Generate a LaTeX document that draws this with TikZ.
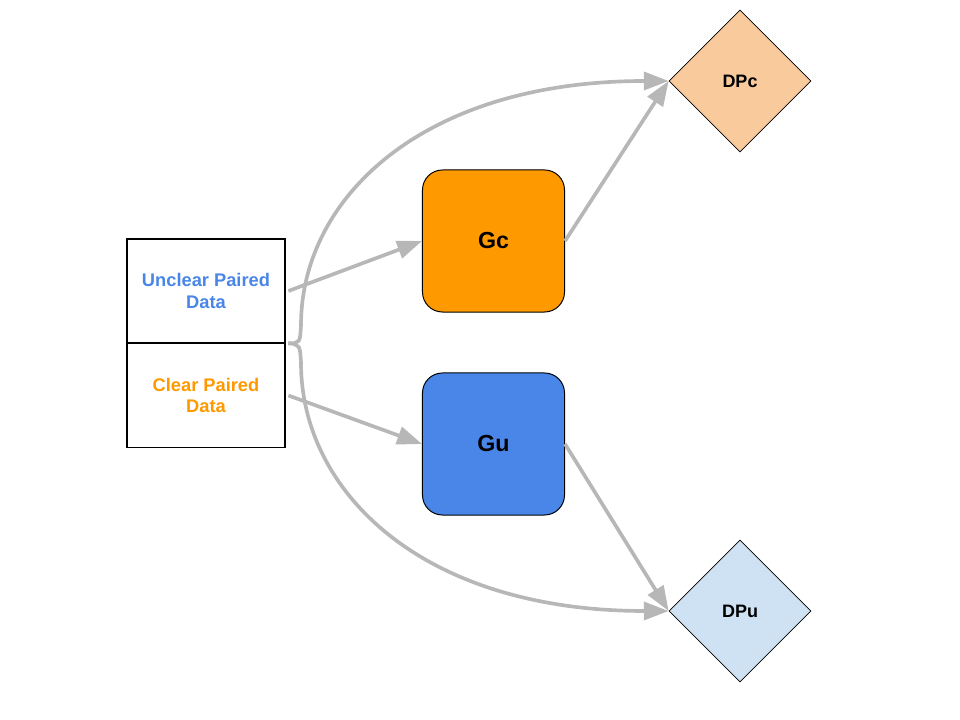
\documentclass[tikz,border=0pt]{standalone}
\usepackage{fontspec}
\setmainfont{Liberation Sans}
\usepackage{xcolor}
\usetikzlibrary{shapes.geometric}
\usetikzlibrary{arrows.meta}
\definecolor{gorange}{HTML}{FF9900}
\definecolor{gblue}{HTML}{4A86E8}
\definecolor{lorange}{HTML}{F9CB9C}
\definecolor{lblue}{HTML}{CFE2F3}
\definecolor{linkgray}{HTML}{B7B7B7}
\tikzset{databox/.style={draw=black, line width=0.8pt, minimum width=3.95cm, minimum height=2.6cm,
   align=center, font=\fontsize{13}{15}\selectfont\bfseries},
 genbox/.style={draw=black, line width=0.7pt, rounded corners=0.5cm, minimum width=3.55cm,
   minimum height=3.55cm, font=\fontsize{16.5}{19}\selectfont\bfseries},
 discbox/.style={diamond, draw=black, line width=0.5pt, aspect=1, inner sep=0pt,
   minimum width=3.55cm, minimum height=3.55cm, font=\fontsize{12.8}{15}\selectfont\bfseries},
 link/.style={draw=linkgray, line width=2.6pt, -{Triangle[length=0.62cm, width=0.45cm]}},
 }

\begin{document}
\begin{tikzpicture}[x=0.025cm, y=-0.025cm]
    \useasboundingbox (0, 0) rectangle (960, 720);
    % paired data
    \node[databox, text=gblue] (unclear) at (206, 291) {Unclear Paired\\Data};
    \node[databox, text=gorange] (clear) at (206, 395.5) {Clear Paired\\Data};
    % generators
    \node[genbox, fill=gorange] (gc) at (493.5, 241) {Gc};
    \node[genbox, fill=gblue] (gu) at (493.5, 444) {Gu};
    % discriminators
    \node[discbox, fill=lorange] (dpc) at (740, 81) {DPc};
    \node[discbox, fill=lblue] (dpu) at (740, 611) {DPu};
    \draw[link] ([xshift=2pt]unclear.east) -- (gc.west);
    \draw[link] ([xshift=2pt]clear.east) -- (gu.west);
    \draw[link] (gc.east) -- (dpc.west);
    \draw[link] (gu.east) -- (dpu.west);
    \draw[link] ([xshift=2pt]unclear.south east) .. controls (300, 343) .. (301, 325)
        .. controls (301, 200) and (420, 81) .. (dpc.west);
    \draw[link] ([xshift=2pt]clear.north east) .. controls (300, 345) .. (301, 363)
        .. controls (301, 490) and (420, 611) .. (dpu.west);
\end{tikzpicture}
\end{document}
